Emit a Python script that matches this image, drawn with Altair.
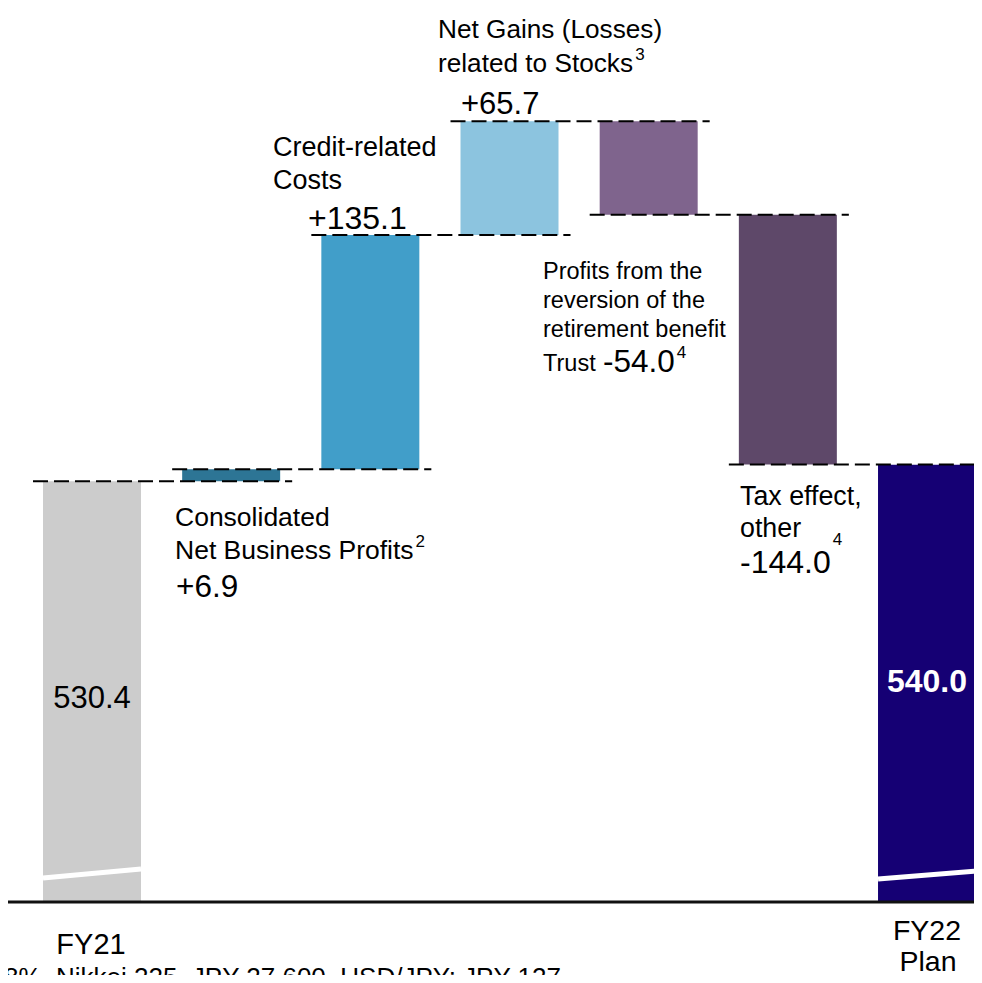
import altair as alt
import pandas as pd

# ---------------- data ----------------
categories = ["FY21", "Consolidated Net Business Profits", "Credit-related Costs",
              "Net Gains (Losses) related to Stocks",
              "Profits from the reversion of the retirement benefit Trust",
              "Tax effect, other", "FY22 Plan"]
values = [530.4, 6.9, 135.1, 65.7, -54.0, -144.0, 540.0]
kinds = ["total", "step", "step", "step", "step", "step", "total"]
colors = ["#CCCCCC", "#2D7595", "#419EC9", "#8CC4DF", "#7F648D", "#5E4869", "#150074"]
footnote = "8%,  Nikkei 225,  JPY 27,600,  USD/JPY: JPY 127"

# ---------------- layout / style ----------------
W, H = 966, 967
K = 1.734            # px per unit (axis is broken)
BASE = 287.8         # value sitting on the broken baseline
BASE_PX = 894        # plot-pixel of the baseline
Y_MAX = BASE + BASE_PX / K
Y_MIN = Y_MAX - H / K
STEP = 139.17        # px between bar centres
X0 = 84              # plot-pixel of first bar centre
X_MIN = -X0 / STEP
X_MAX = X_MIN + W / STEP
BAR_W = 98
HALF = BAR_W / 2 / STEP
FONT = "Liberation Sans"

xs = alt.Scale(domain=[X_MIN, X_MAX], nice=False, zero=False, padding=0)
ys = alt.Scale(domain=[Y_MIN, Y_MAX], nice=False, zero=False, padding=0)

# Helvetica/Arial advance widths (1/1000 em) for placing superscripts
AW = {" ": 278, "+": 584, "-": 333, ".": 278, ",": 278, "(": 333, ")": 333,
      "C": 722, "N": 722, "B": 667, "P": 667, "G": 778, "L": 556, "S": 667,
      "T": 611, "F": 611, "Y": 667}
AW.update({d: 556 for d in "0123456789"})
AW.update({"a": 556, "b": 556, "c": 500, "d": 556, "e": 556, "f": 278, "g": 556,
           "h": 556, "i": 222, "k": 500, "l": 222, "m": 833, "n": 556, "o": 556,
           "p": 556, "r": 333, "s": 500, "t": 278, "u": 556, "v": 500, "x": 500})


def text_w(s, size):
    return sum(AW.get(ch, 556) for ch in s) / 1000 * size


# ---------------- waterfall table ----------------
rows, ends = [], []
level = None
for i, (c, v, k, col) in enumerate(zip(categories, values, kinds, colors)):
    if k == "total":
        start, end = BASE, v
    else:
        start, end = level, level + v
    rows.append(dict(idx=i, cat=c, start=start, end=end, color=col))
    ends.append(end)
    level = end
bars_df = pd.DataFrame(rows)

conn_df = pd.DataFrame([
    dict(x1=i - HALF - 10 / STEP, x2=i + 1 + HALF + 12 / STEP, lvl=ends[i])
    for i in range(len(values) - 1)
])

break_df = pd.DataFrame([
    dict(x1=i - HALF, x2=i + HALF, y1=BASE + lo / K, y2=BASE + hi / K)
    for i, lo, hi in [(0, 24, 33), (6, 23, 31)]
])

bars = alt.Chart(bars_df).mark_bar(size=BAR_W).encode(
    x=alt.X("idx:Q", scale=xs, axis=None),
    y=alt.Y("start:Q", scale=ys, axis=None),
    y2="end:Q",
    color=alt.Color("color:N", scale=None),
)

breaks = alt.Chart(break_df).mark_rule(color="white", strokeWidth=5).encode(
    x=alt.X("x1:Q", scale=xs), x2="x2:Q",
    y=alt.Y("y1:Q", scale=ys), y2="y2:Q",
)

conns = alt.Chart(conn_df).mark_rule(color="black", strokeWidth=2, strokeDash=[15, 6]).encode(
    x=alt.X("x1:Q", scale=xs), x2="x2:Q",
    y=alt.Y("lvl:Q", scale=ys),
)

baseline = alt.Chart(pd.DataFrame({"y": [BASE]})).mark_rule(color="#111111", strokeWidth=3).encode(
    x=alt.value(0), x2=alt.value(W),
    y=alt.Y("y:Q", scale=ys),
)

# ---------------- labels ----------------
anchors = {
    "L0": (ends[0], 483),
    "L2": (ends[2], 246),
    "L3": (ends[3], 116),
    "L4": (ends[4], 212),
    "L5": (ends[5], 455),
    "B": (BASE, 902),
}
centers = [8 + X0 + STEP * i for i in range(len(values))]

SUP = 17
# (bar, anchor, text, page_x, page_baseline, size, weight, color, align, superscript)
labels = [
    (1, "L0", "Consolidated", 175, 528, 26.5, "normal", "black", "left", None),
    (1, "L0", "Net Business Profits", 175, 561, 26.5, "normal", "black", "left", ("2", 549)),
    (1, "L0", "+6.9", 176, 599, 31.5, "normal", "black", "left", None),
    (2, "L2", "Credit-related", 273, 167, 27, "normal", "black", "left", None),
    (2, "L2", "Costs", 273, 200, 27, "normal", "black", "left", None),
    (2, "L2", "+135.1", 308, 240, 32, "normal", "black", "left", None),
    (3, "L3", "Net Gains (Losses)", 438, 33, 26.2, "normal", "black", "left", None),
    (3, "L3", "related to Stocks", 438, 67, 26.2, "normal", "black", "left", ("3", 55)),
    (3, "L3", "+65.7", 461, 109, 31, "normal", "black", "left", None),
    (4, "L4", "Profits from the", 543, 276, 23.5, "normal", "black", "left", None),
    (4, "L4", "reversion of the", 543, 305, 23.5, "normal", "black", "left", None),
    (4, "L4", "retirement benefit", 543, 334, 23.5, "normal", "black", "left", None),
    (4, "L4", "Trust", 543, 368, 23.5, "normal", "black", "left", None),
    (4, "L4", "-54.0", 603, 369, 31.5, "normal", "black", "left", ("4", 355)),
    (5, "L5", "Tax effect,", 740, 495, 26.8, "normal", "black", "left", None),
    (5, "L5", "other", 740, 527, 26.8, "normal", "black", "left", None),
    (5, "L5", "-144.0", 740, 563, 32, "normal", "black", "left", ("4", 535)),
    (0, "B", "530.4", 92, 708, 31, "normal", "black", "center", None),
    (0, "B", "FY21", 91, 954, 29, "normal", "black", "center", None),
    (6, "B", "540.0", 927, 692, 32, "bold", "white", "center", None),
    (6, "B", "FY22", 927, 940, 28.5, "normal", "black", "center", None),
    (6, "B", "Plan", 928, 971, 28.5, "normal", "black", "center", None),
    (0, "B", footnote, 4, 986, 26, "normal", "black", "left", None),
]

text_layers = []


def add_text(bar, anc, txt, px, py, size, weight, col, align):
    val, ref_px = anchors[anc]
    df = pd.DataFrame({"x": [bar], "y": [val], "t": [txt]})
    text_layers.append(
        alt.Chart(df).mark_text(
            align=align, baseline="alphabetic", font=FONT, fontSize=size,
            fontWeight=weight, color=col,
            dx=px - centers[bar], dy=py - ref_px,
        ).encode(
            x=alt.X("x:Q", scale=xs),
            y=alt.Y("y:Q", scale=ys),
            text="t:N",
        )
    )


for bar, anc, txt, px, py, size, weight, col, align, sup in labels:
    add_text(bar, anc, txt, px, py, size, weight, col, align)
    if sup:
        sx = px + text_w(txt, size) + 2
        add_text(bar, anc, sup[0], sx, sup[1], SUP, "normal", "black", "left")

chart = alt.layer(bars, breaks, conns, baseline, *text_layers).properties(
    width=W, height=H, padding=0,
    autosize=alt.AutoSizeParams(type="none"),
).configure_view(stroke=None)

chart.save("out.html", embed_options={"renderer": "svg", "actions": False})
